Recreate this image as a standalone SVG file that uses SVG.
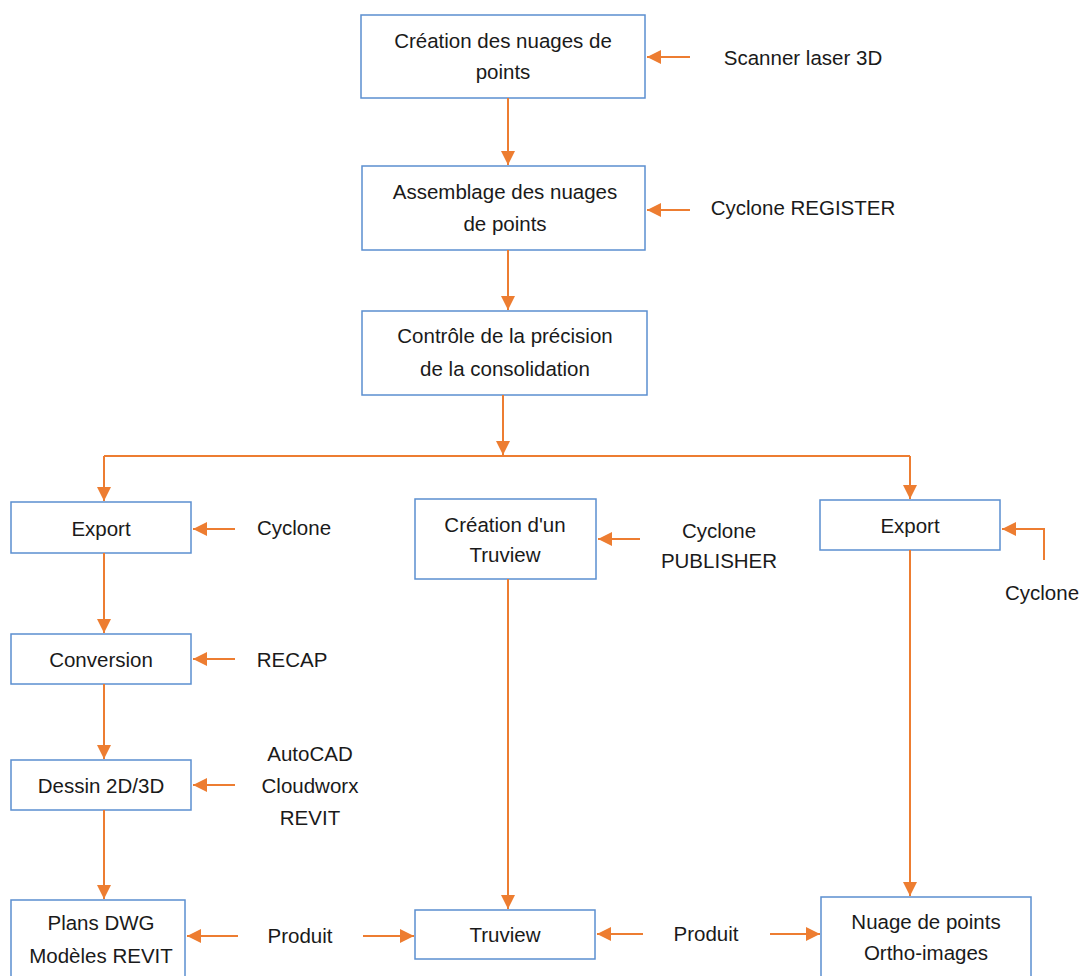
<svg xmlns="http://www.w3.org/2000/svg" width="1083" height="976" viewBox="0 0 1083 976">
<style>
.box{fill:#fff;stroke:#5B8FD0;stroke-width:1.5}
.t{font-family:"Liberation Sans",Arial,sans-serif;font-size:20.5px;fill:#1a1a1a;text-anchor:middle;dominant-baseline:central}
.c{fill:none;stroke:#ED7D31;stroke-width:2}
</style>
<defs>
<marker id="ah" viewBox="0 0 10 10" refX="10" refY="5" markerWidth="7" markerHeight="7" orient="auto" markerUnits="strokeWidth">
<path d="M0,0 L10,5 L0,10 z" fill="#ED7D31"/>
</marker>
</defs>
<rect width="1083" height="976" fill="#fff"/>
<g id="n1"><rect class="box" x="361" y="15" width="284" height="83"/><text class="t" x="503" y="40">Création des nuages de</text><text class="t" x="503" y="71">points</text></g>
<g id="n2"><rect class="box" x="362" y="166" width="283" height="84"/><text class="t" x="505" y="191">Assemblage des nuages</text><text class="t" x="505" y="223">de points</text></g>
<g id="n3"><rect class="box" x="362" y="311" width="285" height="84"/><text class="t" x="505" y="335">Contrôle de la précision</text><text class="t" x="505" y="368">de la consolidation</text></g>
<g id="n4"><rect class="box" x="11" y="502" width="180" height="51"/><text class="t" x="101" y="528">Export</text></g>
<g id="n5"><rect class="box" x="415" y="499" width="181" height="80"/><text class="t" x="505" y="524">Création d'un</text><text class="t" x="505" y="554">Truview</text></g>
<g id="n6"><rect class="box" x="820" y="500" width="180" height="50"/><text class="t" x="910" y="525">Export</text></g>
<g id="n7"><rect class="box" x="11" y="634" width="180" height="50"/><text class="t" x="101" y="659">Conversion</text></g>
<g id="n8"><rect class="box" x="11" y="760" width="180" height="50"/><text class="t" x="101" y="785">Dessin 2D/3D</text></g>
<g id="n9"><rect class="box" x="11" y="900" width="174" height="80"/><text class="t" x="101" y="922">Plans DWG</text><text class="t" x="101" y="955">Modèles REVIT</text></g>
<g id="n10"><rect class="box" x="415" y="910" width="180" height="49"/><text class="t" x="505" y="934">Truview</text></g>
<g id="n11"><rect class="box" x="821" y="897" width="210" height="83"/><text class="t" x="926" y="921">Nuage de points</text><text class="t" x="926" y="952">Ortho-images</text></g>
<g id="labels">
<text class="t" x="803" y="57">Scanner laser 3D</text>
<text class="t" x="803" y="207">Cyclone REGISTER</text>
<text class="t" x="294" y="527">Cyclone</text>
<text class="t" x="719" y="530">Cyclone</text>
<text class="t" x="719" y="560">PUBLISHER</text>
<text class="t" x="1042" y="592">Cyclone</text>
<text class="t" x="292" y="659">RECAP</text>
<text class="t" x="310" y="753">AutoCAD</text>
<text class="t" x="310" y="785">Cloudworx</text>
<text class="t" x="310" y="817">REVIT</text>
<text class="t" x="300" y="935">Produit</text>
<text class="t" x="706" y="933">Produit</text>
</g>
<g id="connectors">
<line class="c" x1="690" y1="57" x2="647" y2="57" marker-end="url(#ah)"/>
<line class="c" x1="508" y1="98" x2="508" y2="165" marker-end="url(#ah)"/>
<line class="c" x1="690" y1="210" x2="647" y2="210" marker-end="url(#ah)"/>
<line class="c" x1="508" y1="250" x2="508" y2="310" marker-end="url(#ah)"/>
<line class="c" x1="503" y1="395" x2="503" y2="455" marker-end="url(#ah)"/>
<path class="c" d="M104,456 H910"/>
<line class="c" x1="104" y1="456" x2="104" y2="501" marker-end="url(#ah)"/>
<line class="c" x1="910" y1="456" x2="910" y2="499" marker-end="url(#ah)"/>
<line class="c" x1="235" y1="529" x2="193" y2="529" marker-end="url(#ah)"/>
<line class="c" x1="104" y1="553" x2="104" y2="633" marker-end="url(#ah)"/>
<line class="c" x1="640" y1="539" x2="598" y2="539" marker-end="url(#ah)"/>
<path class="c" d="M1044,560 V529 H1002" marker-end="url(#ah)"/>
<line class="c" x1="235" y1="659" x2="193" y2="659" marker-end="url(#ah)"/>
<line class="c" x1="104" y1="684" x2="104" y2="759" marker-end="url(#ah)"/>
<line class="c" x1="235" y1="785" x2="193" y2="785" marker-end="url(#ah)"/>
<line class="c" x1="104" y1="810" x2="104" y2="899" marker-end="url(#ah)"/>
<line class="c" x1="508" y1="579" x2="508" y2="909" marker-end="url(#ah)"/>
<line class="c" x1="910" y1="550" x2="910" y2="896" marker-end="url(#ah)"/>
<line class="c" x1="238" y1="936" x2="187" y2="936" marker-end="url(#ah)"/>
<line class="c" x1="363" y1="936" x2="414" y2="936" marker-end="url(#ah)"/>
<line class="c" x1="643" y1="934" x2="597" y2="934" marker-end="url(#ah)"/>
<line class="c" x1="770" y1="934" x2="820" y2="934" marker-end="url(#ah)"/>
</g>
</svg>
